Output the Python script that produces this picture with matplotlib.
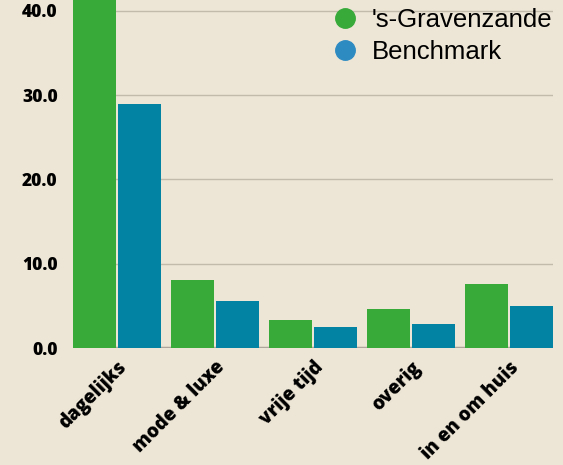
import matplotlib
matplotlib.use("Agg")
import numpy as np
import matplotlib.pyplot as plt
import matplotlib.transforms as mtransforms
from matplotlib.lines import Line2D

categories = ["dagelijks", "mode & luxe", "vrije tijd", "overig", "in en om huis"]
gravenzande = [44.8, 8.1, 3.3, 4.6, 7.6]
benchmark = [29.0, 5.6, 2.5, 2.9, 5.0]
series_names = ["'s-Gravenzande", "Benchmark"]
yticks = [0, 10, 20, 30, 40]

bg = "#ede5d5"
green = "#37aa3a"
blue = "#0383a4"
legend_blue = "#2e8bc2"

fig = plt.figure(figsize=(5.63, 4.65), dpi=100, facecolor=bg)
ax = fig.add_axes([73 / 563, 1 - 348 / 465, 480 / 563, 348 / 465])
ax.set_facecolor(bg)

x = np.arange(len(categories))
w = 0.44
ax.bar(x - 0.01 - w / 2, gravenzande, w, color=green, zorder=3)
ax.bar(x + 0.01 + w / 2, benchmark, w, color=blue, zorder=3)

ax.set_xlim(-0.45, len(categories) - 1 + 0.45)
ax.set_ylim(0, 41.3)
ax.set_yticks(yticks)
ax.set_yticklabels([f"{v:.1f}" for v in yticks], family="Open Sans",
                   fontweight=800, fontsize=12.5)
ax.yaxis.grid(True, color="#c2baab", lw=1, zorder=0)
ax.axhline(0, color="#a9a198", lw=2.5, zorder=1)
ax.tick_params(axis="y", length=0, pad=11)

ax.set_xticks(x)
ax.set_xticklabels(categories, rotation=45, ha="right", va="center",
                   rotation_mode="anchor", family="Open Sans",
                   fontweight=800, fontsize=13.5)
ax.tick_params(axis="x", length=0, pad=12)
shift = mtransforms.ScaledTranslation(7 / 100, 0, fig.dpi_scale_trans)
for lab in ax.get_xticklabels():
    lab.set_transform(lab.get_transform() + shift)

for s in ax.spines.values():
    s.set_visible(False)

handles = [Line2D([], [], ls="", marker="o", ms=14, color=green),
           Line2D([], [], ls="", marker="o", ms=14, color=legend_blue)]
ax.legend(handles, series_names, loc="upper left",
          bbox_to_anchor=(319 / 563, 1.0 + 5 / 465),
          bbox_transform=fig.transFigure, frameon=False,
          prop={"family": "Liberation Sans", "size": 18.5},
          handletextpad=0.56, labelspacing=0.3, borderpad=0,
          handlelength=1.0)

fig.savefig("out.png", dpi=100, facecolor=bg)
